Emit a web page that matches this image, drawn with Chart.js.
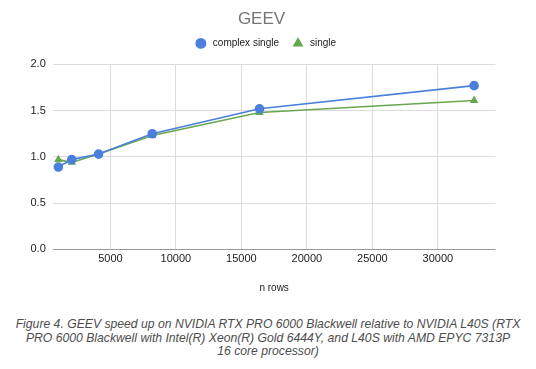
<!DOCTYPE html>
<html>
<head>
<meta charset="utf-8">
<script src="https://cdn.jsdelivr.net/npm/chart.js@4"></script>
<style>
  html, body { margin: 0; padding: 0; background: #fff; }
  #wrap { position: relative; width: 536px; height: 369px; }
  #c { position: absolute; left: 0; top: 0; }
  #caption {
    position: absolute; left: 0; top: 318px; width: 536px;
    text-align: center; font-family: "Liberation Sans", Arial, sans-serif;
    font-style: italic; font-size: 12.2px; line-height: 13.7px; color: #4d4d4d;
  }
</style>
</head>
<body>
<div id="wrap">
  <canvas id="c" width="536" height="300"></canvas>
  <div id="caption">Figure 4. GEEV speed up on NVIDIA RTX PRO 6000 Blackwell relative to NVIDIA L40S (RTX<br>PRO 6000 Blackwell with Intel(R) Xeon(R) Gold 6444Y, and L40S with AMD EPYC 7313P<br>16 core processor)</div>
</div>
<script>
const chartTitle = "GEEV";
const xAxisTitle = "n rows";
const seriesNames = ["complex single", "single"];
const nRows = [1024, 2048, 4096, 8192, 16384, 32768];
const complexSingle = [0.89, 0.97, 1.03, 1.25, 1.52, 1.77];
const single = [0.97, 0.94, 1.03, 1.23, 1.48, 1.61];
const xTickValues = [5000, 10000, 15000, 20000, 25000, 30000];
const yTickValues = [0, 0.5, 1.0, 1.5, 2.0];

const toPts = (ys) => nRows.map((x, i) => ({ x: x, y: ys[i] }));
const FONT = "'Liberation Sans', Arial, sans-serif";

const legendSpacer = {
  id: 'legendSpacer',
  beforeInit(chart) {
    const lg = chart.legend;
    if (!lg) return;
    const orig = lg.fit;
    lg.fit = function () { orig.call(this); this.height += 6; };
  },
  afterLayout(chart) {
    if (chart.legend) { chart.legend.left += 9; chart.legend.right += 9; }
    if (chart.titleBlock) { chart.titleBlock.left += 2; chart.titleBlock.right += 2; }
  }
};

new Chart(document.getElementById('c'), {
  type: 'line',
  data: {
    datasets: [
      {
        label: seriesNames[0],
        data: toPts(complexSingle),
        borderColor: '#4a7fdc',
        backgroundColor: '#4a7fdc',
        pointStyle: 'circle',
        pointRadius: 4,
        borderWidth: 1.6,
        tension: 0
      },
      {
        label: seriesNames[1],
        data: toPts(single),
        borderColor: '#66a84f',
        backgroundColor: '#66a84f',
        pointStyle: 'triangle',
        pointRadius: 3.3,
        borderWidth: 1.6,
        tension: 0
      }
    ]
  },
  options: {
    responsive: false,
    animation: false,
    layout: { padding: { left: 23.5, right: 40.5, top: 6, bottom: 2 } },
    plugins: {
      title: {
        display: true, text: chartTitle, color: '#757575',
        font: { family: FONT, size: 17, weight: 'normal' },
        padding: { top: 3, bottom: 0 }
      },
      legend: {
        display: true,
        labels: {
          usePointStyle: true, boxWidth: 10, boxHeight: 6.6,
          color: '#222', font: { family: FONT, size: 10 }, padding: 9,
          generateLabels: (chart) => {
            const items = Chart.defaults.plugins.legend.labels.generateLabels(chart);
            items.forEach(it => { it.text = '\u2009' + it.text + '\u2002'; });
            return items;
          }
        }
      },
      tooltip: { enabled: false }
    },
    scales: {
      x: {
        type: 'linear', min: 600, max: 34400,
        afterBuildTicks: (s) => { s.ticks = xTickValues.map(v => ({ value: v })); },
        ticks: { color: '#222', font: { family: FONT, size: 11 }, padding: 3, maxRotation: 0,
                 callback: (v) => String(v) },
        grid: { color: '#dcdcdc', drawTicks: false, lineWidth: 1 },
        border: { display: false },
        title: { display: true, text: xAxisTitle, color: '#222', font: { family: FONT, size: 10 }, padding: { top: 13.5 } }
      },
      y: {
        min: 0, max: 2,
        afterBuildTicks: (s) => { s.ticks = yTickValues.map(v => ({ value: v })); },
        ticks: { color: '#222', font: { family: FONT, size: 11 }, padding: 7,
                 callback: (v) => Number(v).toFixed(1) },
        grid: { drawTicks: false, lineWidth: 1,
                color: (ctx) => ctx.tick && ctx.tick.value === 0 ? '#999' : '#dcdcdc' },
        border: { display: false }
      }
    }
  },
  plugins: [legendSpacer]
});
</script>
</body>
</html>
